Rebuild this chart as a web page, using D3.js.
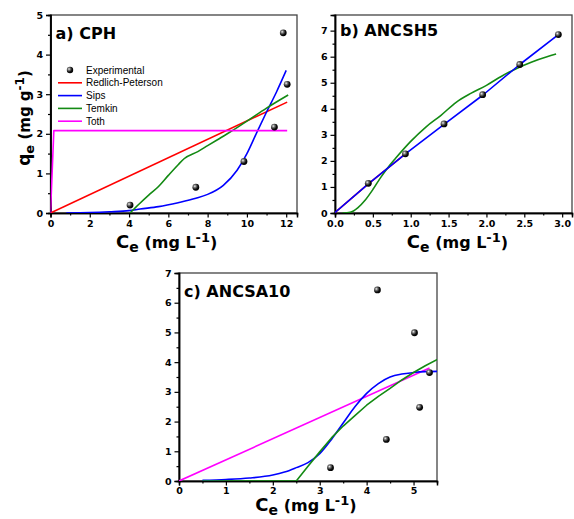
<!DOCTYPE html>
<html>
<head>
<meta charset="utf-8">
<script src="https://cdn.jsdelivr.net/npm/d3@7"></script>
<style>
  body { margin: 0; background: #fff; }
  svg { display: block; }
</style>
</head>
<body>
<svg id="fig" width="574" height="519"></svg>
<script>
// ---------- a) CPH ----------
const cphExpX  = [4.05, 7.4, 9.85, 11.4, 11.85, 12.05];
const cphExpY  = [0.2, 0.65, 1.3, 2.17, 4.55, 3.25];
const cphRPX   = [0, 12.05];
const cphRPY   = [0, 2.8];
const cphSipsX = [0.8, 2, 3, 4, 4.56, 5.5, 6.5, 7.4, 8, 8.8, 9.5, 10, 10.5, 11, 11.5, 12];
const cphSipsY = [0, 0.01, 0.03, 0.06, 0.1, 0.16, 0.26, 0.37, 0.47, 0.7, 1.08, 1.5, 2.03, 2.55, 3.05, 3.6];
const cphTemX  = [4.05, 4.5, 5, 5.5, 6, 6.5, 6.8, 7.5, 8, 8.5, 9, 10, 11, 12.1];
const cphTemY  = [0, 0.22, 0.45, 0.67, 0.95, 1.22, 1.37, 1.55, 1.7, 1.85, 2.0, 2.32, 2.65, 2.98];
const cphTothX = [0, 0.17, 12.05];
const cphTothY = [0, 2.08, 2.08];
const cphXTicks = [0, 2, 4, 6, 8, 10, 12];
const cphYTicks = [0, 1, 2, 3, 4, 5];

// ---------- b) ANCSH5 ----------
const shExpX  = [0.44, 0.93, 1.44, 1.95, 2.44, 2.95];
const shExpY  = [1.14, 2.27, 3.42, 4.54, 5.7, 6.85];
const shRPX   = [0, 0.44, 0.93];
const shRPY   = [0.02, 1.12, 2.27];
const shSipsX = [0, 0.44, 0.93, 1.44, 1.95, 2.44, 2.95];
const shSipsY = [0.02, 1.12, 2.27, 3.4, 4.52, 5.7, 6.85];
const shTemX  = [0.1, 0.2, 0.3, 0.4, 0.5, 0.6, 0.7, 0.8, 1.0, 1.2, 1.4, 1.6, 1.8, 2.0, 2.2, 2.4, 2.6, 2.8, 2.92];
const shTemY  = [0, 0.03, 0.2, 0.5, 0.9, 1.35, 1.75, 2.1, 2.75, 3.3, 3.75, 4.25, 4.6, 4.9, 5.25, 5.55, 5.8, 6.0, 6.1];
const shXTicks = [0, 0.5, 1.0, 1.5, 2.0, 2.5, 3.0];
const shYTicks = [0, 1, 2, 3, 4, 5, 6, 7];

// ---------- c) ANCSA10 ----------
const saExpX  = [3.23, 4.23, 4.42, 5.02, 5.13, 5.34];
const saExpY  = [0.45, 6.43, 1.4, 4.99, 2.48, 3.65];
const saSipsX = [0.5, 1, 1.5, 2, 2.25, 2.5, 2.75, 3, 3.25, 3.5, 3.75, 4, 4.25, 4.5, 4.75, 5, 5.25, 5.5];
const saSipsY = [0.02, 0.05, 0.1, 0.2, 0.3, 0.45, 0.62, 0.92, 1.4, 1.95, 2.5, 2.95, 3.28, 3.5, 3.6, 3.65, 3.68, 3.69];
const saTemX  = [0.5, 2.5, 2.75, 3, 3.25, 3.5, 3.75, 4, 4.25, 4.5, 4.75, 5, 5.25, 5.52];
const saTemY  = [0, 0, 0.5, 0.98, 1.45, 1.85, 2.2, 2.55, 2.85, 3.12, 3.4, 3.65, 3.88, 4.1];
const saTothX = [0, 5.34];
const saTothY = [0, 3.8];
const saXTicks = [0, 1, 2, 3, 4, 5];
const saYTicks = [0, 1, 2, 3, 4, 5, 6, 7];

const legendNames = ["Experimental", "Redlich-Peterson", "Sips", "Temkin", "Toth"];
const COLORS = { rp: "#ff0000", sips: "#0000ff", tem: "#138a13", toth: "#ff00ff" };

const BOLD = "'DejaVu Sans', sans-serif";
const svg = d3.select("#fig");

// shaded sphere used for the experimental points
const grad = svg.append("defs").append("radialGradient")
  .attr("id", "ball").attr("cx", "35%").attr("cy", "35%").attr("r", "65%");
grad.append("stop").attr("offset", "0%").attr("stop-color", "#f2f2f2");
grad.append("stop").attr("offset", "30%").attr("stop-color", "#7a7a7a");
grad.append("stop").attr("offset", "70%").attr("stop-color", "#111");
grad.append("stop").attr("offset", "100%").attr("stop-color", "#000");

const zip = (xs, ys) => xs.map((x, i) => [x, ys[i]]);

function panel(cfg) {
  const x = d3.scaleLinear().domain(cfg.xDomain).range([cfg.left, cfg.right]);
  const y = d3.scaleLinear().domain(cfg.yDomain).range([cfg.bottom, cfg.top]);
  const g = svg.append("g");

  const clipId = "clip-" + cfg.id;
  svg.select("defs").append("clipPath").attr("id", clipId)
    .append("rect").attr("x", cfg.left).attr("y", cfg.top)
    .attr("width", cfg.right - cfg.left).attr("height", cfg.bottom - cfg.top);

  // frame
  g.append("rect").attr("x", cfg.left).attr("y", cfg.top)
    .attr("width", cfg.right - cfg.left).attr("height", cfg.bottom - cfg.top)
    .attr("fill", "none").attr("stroke", "#444").attr("stroke-width", 1.3);

  // minor ticks
  const xMinor = g.append("g").attr("transform", `translate(0,${cfg.bottom})`)
    .call(d3.axisBottom(x).tickValues(cfg.xMinor).tickSize(2.5).tickFormat(""));
  const yMinor = g.append("g").attr("transform", `translate(${cfg.left},0)`)
    .call(d3.axisLeft(y).tickValues(cfg.yMinor).tickSize(2.5).tickFormat(""));
  // major ticks with labels
  const xAx = g.append("g").attr("transform", `translate(0,${cfg.bottom})`)
    .call(d3.axisBottom(x).tickValues(cfg.xTicks).tickSize(4.5).tickPadding(cfg.xPad).tickFormat(cfg.xFmt));
  const yAx = g.append("g").attr("transform", `translate(${cfg.left},0)`)
    .call(d3.axisLeft(y).tickValues(cfg.yTicks).tickSize(4.5).tickPadding(3).tickFormat(cfg.yFmt));
  [xMinor, yMinor, xAx, yAx].forEach(a => {
    a.select(".domain").attr("stroke", "#000").attr("stroke-width", 1.5);
    a.selectAll(".tick line").attr("stroke", "#000").attr("stroke-width", 1.2);
    a.selectAll(".tick text").attr("fill", "#000")
      .style("font-family", BOLD).style("font-weight", "bold").style("font-size", "9.5px");
  });

  // fitted curves
  const plot = g.append("g").attr("clip-path", `url(#${clipId})`);
  cfg.curves.forEach(c => {
    plot.append("path")
      .datum(zip(c.xs, c.ys))
      .attr("fill", "none").attr("stroke", c.color).attr("stroke-width", 1.6)
      .attr("stroke-linejoin", "round")
      .attr("d", d3.line().x(d => x(d[0])).y(d => y(d[1])).curve(c.curve || d3.curveMonotoneX));
  });

  // experimental points
  g.append("g").selectAll("circle")
    .data(zip(cfg.expX, cfg.expY))
    .join("circle")
    .attr("cx", d => x(d[0])).attr("cy", d => y(d[1])).attr("r", 3.4)
    .attr("fill", "url(#ball)");

  // panel title
  g.append("text").attr("x", cfg.left + 5).attr("y", cfg.top + cfg.titleDy)
    .style("font-family", BOLD).style("font-weight", "bold").style("font-size", "16px")
    .text(cfg.title);

  // x-axis title: C_e (mg L^-1)
  const xt = g.append("text")
    .attr("x", (cfg.left + cfg.right) / 2 + cfg.xTitleDx).attr("y", cfg.bottom + cfg.xTitleDy)
    .attr("text-anchor", "middle")
    .style("font-family", BOLD).style("font-weight", "bold");
  xt.append("tspan").style("font-size", "18px").text("C");
  xt.append("tspan").style("font-size", "14px").attr("dy", 4).text("e");
  xt.append("tspan").style("font-size", "16px").attr("dy", -4).text(" (mg L");
  xt.append("tspan").style("font-size", "13px").attr("dy", -6).text("-1");
  xt.append("tspan").style("font-size", "16px").attr("dy", 6).text(")");

  return { x, y, g };
}

// ---------- a) ----------
panel({
  id: "a", left: 50.5, right: 297, top: 15, bottom: 213,
  xDomain: [0, 12.55], yDomain: [0, 5],
  xTicks: cphXTicks, yTicks: cphYTicks, xPad: 3,
  xMinor: [1, 3, 5, 7, 9, 11], yMinor: [0.5, 1.5, 2.5, 3.5, 4.5],
  xFmt: d3.format("d"), yFmt: d3.format("d"),
  title: "a) CPH", titleDy: 24, xTitleDx: -7, xTitleDy: 35,
  expX: cphExpX, expY: cphExpY,
  curves: [
    { xs: cphRPX, ys: cphRPY, color: COLORS.rp, curve: d3.curveLinear },
    { xs: cphSipsX, ys: cphSipsY, color: COLORS.sips },
    { xs: cphTemX, ys: cphTemY, color: COLORS.tem },
    { xs: cphTothX, ys: cphTothY, color: COLORS.toth, curve: d3.curveLinear }
  ]
});

// y-axis title of a): q_e (mg g^-1)
const yt = svg.append("text")
  .attr("transform", "translate(30,118) rotate(-90)")
  .attr("text-anchor", "middle")
  .style("font-family", BOLD).style("font-weight", "bold");
yt.append("tspan").style("font-size", "17px").text("q");
yt.append("tspan").style("font-size", "13px").attr("dy", 4).text("e");
yt.append("tspan").style("font-size", "15px").attr("dy", -4).text(" (mg g");
yt.append("tspan").style("font-size", "12px").attr("dy", -6).text("-1");
yt.append("tspan").style("font-size", "15px").attr("dy", 6).text(")");

// legend of a)
const legColors = [null, COLORS.rp, COLORS.sips, COLORS.tem, COLORS.toth];
const leg = svg.append("g");
legendNames.forEach((name, i) => {
  const ly = 70 + i * 12.8;
  if (i === 0) {
    leg.append("circle").attr("cx", 70).attr("cy", ly).attr("r", 3.2).attr("fill", "url(#ball)");
  } else {
    leg.append("line").attr("x1", 58).attr("x2", 82).attr("y1", ly).attr("y2", ly)
      .attr("stroke", legColors[i]).attr("stroke-width", 1.6);
  }
  leg.append("text").attr("x", 86).attr("y", ly + 3.6)
    .style("font-family", "'Liberation Sans', Arial, sans-serif").style("font-size", "10px")
    .text(name);
});

// ---------- b) ----------
panel({
  id: "b", left: 335, right: 572, top: 15, bottom: 213,
  xDomain: [0, 3.13], yDomain: [0, 7.6],
  xTicks: shXTicks, yTicks: shYTicks, xPad: 3,
  xMinor: [0.25, 0.75, 1.25, 1.75, 2.25, 2.75], yMinor: [0.5, 1.5, 2.5, 3.5, 4.5, 5.5, 6.5],
  xFmt: d3.format(".1f"), yFmt: d3.format("d"),
  title: "b) ANCSH5", titleDy: 21, xTitleDx: 4, xTitleDy: 35,
  expX: shExpX, expY: shExpY,
  curves: [
    { xs: shRPX, ys: shRPY, color: COLORS.rp, curve: d3.curveLinear },
    { xs: shTemX, ys: shTemY, color: COLORS.tem },
    { xs: shSipsX, ys: shSipsY, color: COLORS.sips, curve: d3.curveLinear }
  ]
});

// ---------- c) ----------
panel({
  id: "c", left: 179, right: 437, top: 273, bottom: 481,
  xDomain: [0, 5.5], yDomain: [0, 7],
  xTicks: saXTicks, yTicks: saYTicks, xPad: 2,
  xMinor: [0.5, 1.5, 2.5, 3.5, 4.5], yMinor: [0.5, 1.5, 2.5, 3.5, 4.5, 5.5, 6.5],
  xFmt: d3.format("d"), yFmt: d3.format("d"),
  title: "c) ANCSA10", titleDy: 24, xTitleDx: -2, xTitleDy: 30,
  expX: saExpX, expY: saExpY,
  curves: [
    { xs: saTothX, ys: saTothY, color: COLORS.toth, curve: d3.curveLinear },
    { xs: saSipsX, ys: saSipsY, color: COLORS.sips },
    { xs: saTemX, ys: saTemY, color: COLORS.tem, curve: d3.curveLinear }
  ]
});
</script>
</body>
</html>
